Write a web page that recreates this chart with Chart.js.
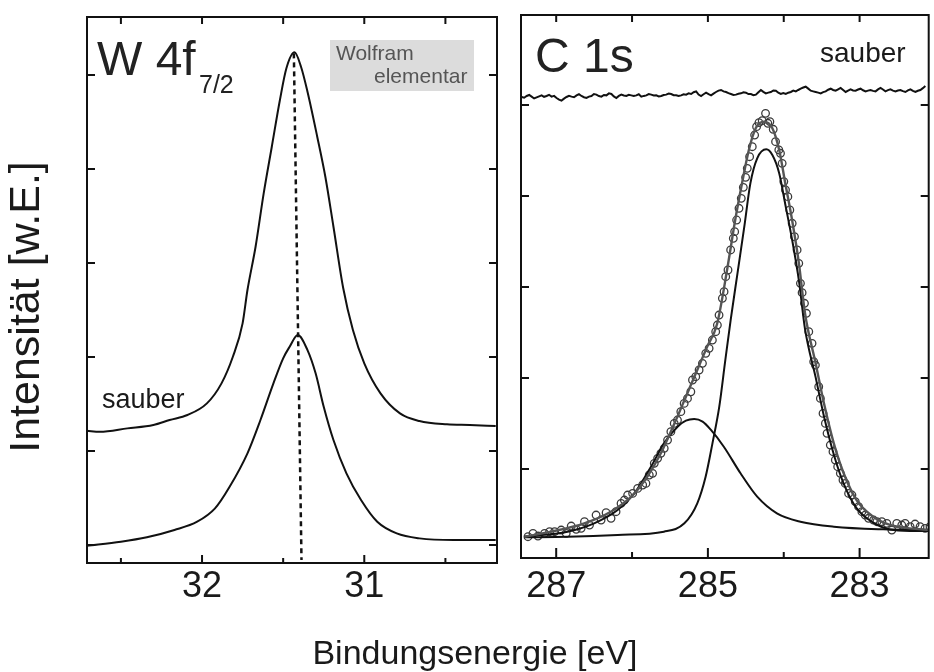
<!DOCTYPE html>
<html>
<head>
<meta charset="utf-8">
<script src="https://cdn.jsdelivr.net/npm/chart.js@4.4.1/dist/chart.umd.min.js"></script>
<style>
  html, body { margin: 0; padding: 0; background: #fff; }
  #page { position: relative; width: 934px; height: 672px; overflow: hidden; }
  #wChart { position: absolute; left: 0; top: 0; }
  #cChart { position: absolute; left: 510px; top: 0; }
  #xTitle { position: absolute; left: 0; top: 634px; width: 950px; text-align: center;
            font: 34px "Liberation Sans", Arial, sans-serif; line-height: 36px; color: #1a1a1a; }
</style>
</head>
<body>
<div id="page">
  <canvas id="wChart" width="510" height="672"></canvas>
  <canvas id="cChart" width="424" height="672"></canvas>
  <div id="xTitle">Bindungsenergie [eV]</div>
</div>
<script>
// W 4f7/2 panel (binding energy in eV, intensity in arbitrary units)
const wSauberE = [32.71, 32.63, 32.46, 32.30, 32.20, 32.09, 31.97, 31.88, 31.81, 31.75, 31.72, 31.67, 31.62, 31.57, 31.52, 31.48,
  31.43, 31.39, 31.35, 31.29, 31.24, 31.19, 31.13, 31.07, 31.00, 30.90, 30.78, 30.66, 30.49, 30.35, 30.19];
const wSauberI = [1.216, 1.205, 1.241, 1.277, 1.33, 1.383, 1.507, 1.72, 2.003, 2.358, 2.713, 3.173, 3.741, 4.237, 4.734, 5.071,
  5.241, 5.088, 4.822, 4.344, 3.918, 3.386, 2.734, 2.287, 1.933, 1.614, 1.401, 1.319, 1.284, 1.277, 1.266];
const wLowerE = [32.71, 32.50, 32.34, 32.17, 32.03, 31.92, 31.83, 31.72, 31.64, 31.56, 31.50, 31.46, 31.41, 31.35, 31.30, 31.25,
  31.19, 31.11, 31.02, 30.92, 30.80, 30.66, 30.45, 30.19];
const wLowerI = [-0.007, 0.035, 0.082, 0.16, 0.248, 0.39, 0.62, 0.976, 1.33, 1.72, 1.986, 2.11, 2.234, 2.074, 1.827, 1.471,
  1.117, 0.763, 0.479, 0.248, 0.124, 0.071, 0.053, 0.053];
const wMarkE = [31.434, 31.387];
const wMarkI = [5.23, -0.16];
const wTicks = [32.5, 32, 31.5, 31, 30.5];
const wTickLabels = [32, 31];
const wYTicks = [0, 1, 2, 3, 4, 5];

// C 1s panel
const cSauberE = [287.455, 287.422, 287.389, 287.356, 287.324, 287.291, 287.258, 287.225, 287.192, 287.160,
  287.127, 287.094, 287.061, 287.028, 286.995, 286.962, 286.930, 286.897, 286.864, 286.831,
  286.798, 286.765, 286.732, 286.700, 286.667, 286.634, 286.601, 286.568, 286.535, 286.503,
  286.470, 286.437, 286.404, 286.371, 286.338, 286.305, 286.272, 286.240, 286.207, 286.174,
  286.141, 286.108, 286.075, 286.043, 286.010, 285.977, 285.944, 285.911, 285.878, 285.845,
  285.812, 285.780, 285.747, 285.714, 285.681, 285.648, 285.615, 285.583, 285.550, 285.517,
  285.484, 285.451, 285.418, 285.386, 285.353, 285.320, 285.287, 285.254, 285.221, 285.188,
  285.155, 285.123, 285.090, 285.057, 285.024, 284.991, 284.958, 284.926, 284.893, 284.860,
  284.827, 284.794, 284.761, 284.729, 284.696, 284.663, 284.630, 284.597, 284.564, 284.531,
  284.498, 284.466, 284.433, 284.400, 284.367, 284.334, 284.301, 284.269, 284.236, 284.203,
  284.170, 284.137, 284.104, 284.072, 284.039, 284.006, 283.973, 283.940, 283.907, 283.874,
  283.841, 283.809, 283.776, 283.743, 283.710, 283.677, 283.644, 283.612, 283.579, 283.546,
  283.513, 283.480, 283.447, 283.414, 283.381, 283.349, 283.316, 283.283, 283.250, 283.217,
  283.184, 283.152, 283.119, 283.086, 283.053, 283.020, 282.987, 282.954, 282.921, 282.889,
  282.856, 282.823, 282.790, 282.757, 282.724, 282.692, 282.659, 282.626, 282.593, 282.560,
  282.527, 282.495, 282.462, 282.429, 282.396, 282.363, 282.330, 282.297, 282.264, 282.232,
  282.199, 282.166, 282.133];
const cSauberI = [5.088, 5.080, 5.099, 5.110, 5.092, 5.072, 5.084, 5.095, 5.106, 5.090,
  5.099, 5.112, 5.092, 5.100, 5.077, 5.060, 5.048, 5.070, 5.088, 5.101,
  5.092, 5.085, 5.106, 5.118, 5.099, 5.085, 5.077, 5.092, 5.099, 5.120,
  5.114, 5.098, 5.092, 5.110, 5.106, 5.128, 5.121, 5.095, 5.077, 5.100,
  5.114, 5.105, 5.099, 5.112, 5.106, 5.098, 5.106, 5.118, 5.092, 5.100,
  5.106, 5.120, 5.114, 5.104, 5.106, 5.094, 5.099, 5.110, 5.114, 5.126,
  5.121, 5.108, 5.106, 5.099, 5.106, 5.118, 5.114, 5.128, 5.121, 5.140,
  5.150, 5.115, 5.099, 5.118, 5.135, 5.120, 5.106, 5.125, 5.143, 5.158,
  5.165, 5.150, 5.143, 5.130, 5.121, 5.110, 5.114, 5.124, 5.128, 5.140,
  5.135, 5.120, 5.121, 5.108, 5.114, 5.140, 5.165, 5.145, 5.128, 5.136,
  5.143, 5.160, 5.157, 5.135, 5.121, 5.132, 5.121, 5.135, 5.143, 5.158,
  5.150, 5.165, 5.179, 5.192, 5.201, 5.180, 5.157, 5.150, 5.143, 5.136,
  5.128, 5.142, 5.150, 5.168, 5.179, 5.165, 5.157, 5.172, 5.187, 5.165,
  5.143, 5.158, 5.172, 5.160, 5.157, 5.170, 5.179, 5.162, 5.150, 5.158,
  5.165, 5.155, 5.150, 5.172, 5.187, 5.170, 5.150, 5.163, 5.172, 5.158,
  5.150, 5.160, 5.165, 5.152, 5.143, 5.160, 5.172, 5.155, 5.143, 5.156,
  5.165, 5.185, 5.209];
const cDataE = [287.372, 287.306, 287.240, 287.153, 287.087, 287.021, 286.934, 286.868, 286.802, 286.736, 286.671, 286.627,
  286.561, 286.474, 286.408, 286.342, 286.277, 286.211, 286.145, 286.101, 286.058, 285.992, 285.926, 285.860, 285.817,
  285.773, 285.729, 285.707, 285.663, 285.620, 285.576, 285.532, 285.488, 285.444, 285.401, 285.357, 285.313, 285.269,
  285.225, 285.203, 285.160, 285.116, 285.072, 285.028, 284.984, 284.941, 284.897, 284.875, 284.853, 284.809, 284.787,
  284.765, 284.735, 284.700, 284.665, 284.647, 284.621, 284.590, 284.560, 284.533, 284.503, 284.481, 284.450, 284.415,
  284.384, 284.358, 284.327, 284.284, 284.240, 284.209, 284.183, 284.139, 284.108, 284.065, 284.043, 284.021, 283.999,
  283.977, 283.946, 283.920, 283.889, 283.859, 283.824, 283.802, 283.780, 283.758, 283.727, 283.701, 283.670, 283.627,
  283.605, 283.583, 283.539, 283.517, 283.482, 283.451, 283.429, 283.386, 283.351, 283.320, 283.289, 283.254, 283.219,
  283.189, 283.145, 283.101, 283.057, 283.013, 282.970, 282.926, 282.882, 282.816, 282.772, 282.707, 282.641, 282.575,
  282.510, 282.444, 282.400, 282.334, 282.269, 282.203, 282.137, 282.072];
const cDataI = [0.256, 0.293, 0.263, 0.293, 0.311, 0.311, 0.329, 0.293, 0.373, 0.337, 0.348, 0.421,
  0.384, 0.494, 0.439, 0.520, 0.458, 0.531, 0.622, 0.659, 0.714, 0.732, 0.787, 0.824, 0.842,
  0.934, 0.952, 1.062, 1.117, 1.172, 1.227, 1.318, 1.410, 1.501, 1.538, 1.630, 1.721, 1.776,
  1.849, 1.978, 2.014, 2.088, 2.161, 2.271, 2.326, 2.417, 2.509, 2.582, 2.692, 2.876, 2.949,
  3.114, 3.187, 3.407, 3.535, 3.608, 3.736, 3.865, 3.974, 4.095, 4.205, 4.304, 4.432, 4.542,
  4.670, 4.762, 4.806, 4.828, 4.908, 4.799, 4.817, 4.733, 4.597, 4.506, 4.469, 4.359, 4.158,
  4.066, 3.993, 3.846, 3.700, 3.553, 3.407, 3.260, 3.040, 2.938, 2.821, 2.711, 2.509, 2.381,
  2.179, 2.142, 1.904, 1.776, 1.611, 1.501, 1.392, 1.263, 1.190, 1.099, 1.025, 0.952, 0.879,
  0.842, 0.732, 0.714, 0.641, 0.586, 0.531, 0.494, 0.458, 0.439, 0.421, 0.421, 0.403, 0.329,
  0.403, 0.384, 0.403, 0.366, 0.395, 0.366, 0.348, 0.366];
const cFitE = [287.42, 287.07, 286.63, 286.28, 286.01, 285.80, 285.62, 285.44, 285.29, 285.14, 285.01, 284.88, 284.74,
  284.64, 284.55, 284.46, 284.37, 284.26, 284.15, 284.06, 283.98, 283.89, 283.80, 283.72, 283.58, 283.47, 283.34,
  283.21, 283.04, 282.82, 282.60, 282.34, 282.07];
const cFitI = [0.256, 0.311, 0.403, 0.531, 0.696, 0.915, 1.173, 1.502, 1.795, 2.088, 2.344, 2.590, 3.223,
  3.736, 4.140, 4.505, 4.744, 4.816, 4.744, 4.505, 4.140, 3.736, 3.260, 2.711, 2.162, 1.722, 1.282,
  0.953, 0.659, 0.476, 0.385, 0.348, 0.330];
const cMainE = [287.42, 286.85, 286.19, 285.58, 285.31, 285.14, 285.03, 284.94, 284.85, 284.77, 284.70, 284.61, 284.52,
  284.44, 284.35, 284.23, 284.15, 284.06, 283.98, 283.89, 283.80, 283.72, 283.58, 283.47, 283.34, 283.21, 283.04,
  282.82, 282.60, 282.34, 282.07];
const cMainI = [0.249, 0.256, 0.275, 0.311, 0.403, 0.623, 0.915, 1.282, 1.685, 2.198, 2.637, 3.150, 3.663,
  4.139, 4.414, 4.513, 4.450, 4.250, 3.910, 3.520, 3.070, 2.540, 2.010, 1.580, 1.160, 0.840, 0.570,
  0.410, 0.335, 0.320, 0.320];
const cSideE = [287.42, 286.85, 286.50, 286.19, 285.97, 285.75, 285.58, 285.40, 285.29, 285.18, 285.07, 284.96, 284.79,
  284.57, 284.35, 284.09, 283.78, 283.34, 282.69, 282.07];
const cSideI = [0.256, 0.311, 0.403, 0.549, 0.733, 1.025, 1.282, 1.465, 1.531, 1.549, 1.520, 1.429, 1.245,
  0.953, 0.696, 0.513, 0.421, 0.366, 0.337, 0.330];
const cTicks = [287, 286, 285, 284, 283];
const cTickLabels = [287, 285, 283];
const cYTicks = [1, 2, 3, 4, 5];

const FONT = '"Liberation Sans", Arial, Helvetica, sans-serif';
Chart.defaults.font.family = FONT;
Chart.defaults.color = '#1a1a1a';

function toXY(xs, ys) {
  return xs.map((x, i) => ({x: x, y: ys[i]}));
}

// frame round the plot area, with inward tick marks on all four sides
const frameTicks = {
  id: 'frameTicks',
  afterDatasetsDraw: (chart, args, opts) => {
    const ctx = chart.ctx, a = chart.chartArea;
    const xs = chart.scales.x, ys = chart.scales.y;
    ctx.save();
    ctx.strokeStyle = '#111';
    ctx.lineWidth = 2;
    ctx.beginPath();
    xs.ticks.forEach(t => {
      const px = xs.getPixelForValue(t.value);
      const len = opts.major.includes(t.value) ? opts.majorLen : opts.minorLen;
      ctx.moveTo(px, a.bottom);
      ctx.lineTo(px, a.bottom - len);
      ctx.moveTo(px, a.top);
      ctx.lineTo(px, a.top + opts.topLen);
    });
    ys.ticks.forEach(t => {
      const py = ys.getPixelForValue(t.value);
      ctx.moveTo(a.left, py);
      ctx.lineTo(a.left + opts.yLen, py);
      ctx.moveTo(a.right, py);
      ctx.lineTo(a.right - opts.yLen, py);
    });
    ctx.stroke();
    ctx.strokeRect(a.left, a.top, a.right - a.left, a.bottom - a.top);
    ctx.restore();
  }
};

const panelText = {
  id: 'panelText',
  beforeDatasetsDraw: (chart, args, opts) => {
    if (!opts.box) return;
    const ctx = chart.ctx;
    ctx.save();
    ctx.fillStyle = opts.box.color;
    ctx.fillRect(opts.box.x, opts.box.y, opts.box.w, opts.box.h);
    ctx.restore();
  },
  afterDraw: (chart, args, opts) => {
    const ctx = chart.ctx;
    ctx.save();
    opts.items.forEach(it => {
      ctx.font = it.size + 'px ' + FONT;
      ctx.fillStyle = it.color || '#1a1a1a';
      if (it.rotate) {
        ctx.save();
        ctx.translate(it.x, it.y);
        ctx.rotate(it.rotate);
        ctx.textAlign = 'center';
        ctx.textBaseline = 'middle';
        ctx.fillText(it.text, 0, 0);
        ctx.restore();
      } else {
        ctx.textAlign = 'left';
        ctx.textBaseline = 'alphabetic';
        ctx.fillText(it.text, it.x, it.y);
      }
    });
    ctx.restore();
  }
};

function xAxis(min, max, ticks, labels, height, pad) {
  return {
    type: 'linear', reverse: true, min: min, max: max,
    grid: {display: false, drawTicks: false},
    border: {display: false},
    ticks: {
      padding: pad, maxRotation: 0, autoSkip: false,
      font: {size: 36},
      callback: v => labels.includes(v) ? String(v) : ''
    },
    afterBuildTicks: axis => { axis.ticks = ticks.map(v => ({value: v})); },
    afterFit: axis => { axis.height = height; }
  };
}

function yAxis(min, max, ticks, width) {
  return {
    type: 'linear', min: min, max: max,
    grid: {display: false, drawTicks: false},
    border: {display: false},
    ticks: {display: false},
    afterBuildTicks: axis => { axis.ticks = ticks.map(v => ({value: v})); },
    afterFit: axis => { axis.width = width; }
  };
}

const lineStyle = {borderColor: '#111', borderWidth: 2, pointRadius: 0, fill: false};

window.addEventListener('load', () => {

  new Chart(document.getElementById('wChart'), {
    type: 'line',
    data: {
      datasets: [
        Object.assign({label: 'sauber', data: toXY(wSauberE, wSauberI), cubicInterpolationMode: 'monotone'}, lineStyle),
        Object.assign({label: 'lower', data: toXY(wLowerE, wLowerI), cubicInterpolationMode: 'monotone'}, lineStyle),
        Object.assign({label: 'marker', data: toXY(wMarkE, wMarkI)}, lineStyle, {borderDash: [5, 4], borderWidth: 2.5}),
      ]
    },
    options: {
      animation: false,
      responsive: false,
      layout: {padding: {top: 17, right: 13, left: 0, bottom: 0}},
      plugins: {
        legend: {display: false},
        tooltip: {enabled: false},
        frameTicks: {major: wTickLabels, majorLen: 8, minorLen: 5, topLen: 7, yLen: 8},
        panelText: {
          box: {x: 330, y: 40, w: 144, h: 51, color: '#dcdcdc'},
          items: [
            {text: 'W 4f', x: 97, y: 75, size: 48, color: '#222'},
            {text: '7/2', x: 199, y: 93, size: 25, color: '#222'},
            {text: 'Wolfram', x: 336, y: 60, size: 21, color: '#555'},
            {text: 'elementar', x: 374, y: 83, size: 21, color: '#555'},
            {text: 'sauber', x: 102, y: 408, size: 27},
            {text: 'Intensität [w.E.]', x: 27, y: 307, size: 43, rotate: -Math.PI / 2},
          ]
        }
      },
      scales: {
        x: xAxis(30.182, 32.709, wTicks, wTickLabels, 109, 2),
        y: yAxis(-0.191, 5.617, wYTicks, 87)
      }
    },
    plugins: [frameTicks, panelText]
  });

  new Chart(document.getElementById('cChart'), {
    type: 'line',
    data: {
      datasets: [
        Object.assign({label: 'sauber', data: toXY(cSauberE, cSauberI), order: 0}, lineStyle),
        Object.assign({label: 'Fit', data: toXY(cFitE, cFitI), cubicInterpolationMode: 'monotone', order: 0},
          lineStyle, {borderColor: '#555', borderWidth: 2.4}),
        Object.assign({label: 'C1', data: toXY(cMainE, cMainI), cubicInterpolationMode: 'monotone', order: 0}, lineStyle),
        Object.assign({label: 'C2', data: toXY(cSideE, cSideI), cubicInterpolationMode: 'monotone', order: 0}, lineStyle),
        {
          label: 'Messung', data: toXY(cDataE, cDataI), showLine: false, order: 1,
          pointRadius: 3.8, pointBorderWidth: 1.3, pointBorderColor: '#3a3a3a',
          pointBackgroundColor: 'rgba(0,0,0,0)'
        }
      ]
    },
    options: {
      animation: false,
      responsive: false,
      layout: {padding: {top: 15, right: 4, left: 0, bottom: 0}},
      plugins: {
        legend: {display: false},
        tooltip: {enabled: false},
        frameTicks: {major: cTickLabels, majorLen: 10, minorLen: 6, topLen: 7, yLen: 8},
        panelText: {
          items: [
            {text: 'C 1s', x: 25, y: 72, size: 48, color: '#222'},
            {text: 'sauber', x: 310, y: 62, size: 28},
          ]
        }
      },
      scales: {
        x: xAxis(282.089, 287.464, cTicks, cTickLabels, 114, 7),
        y: yAxis(0.022, 5.989, cYTicks, 11)
      }
    },
    plugins: [frameTicks, panelText]
  });
});
</script>
</body>
</html>
